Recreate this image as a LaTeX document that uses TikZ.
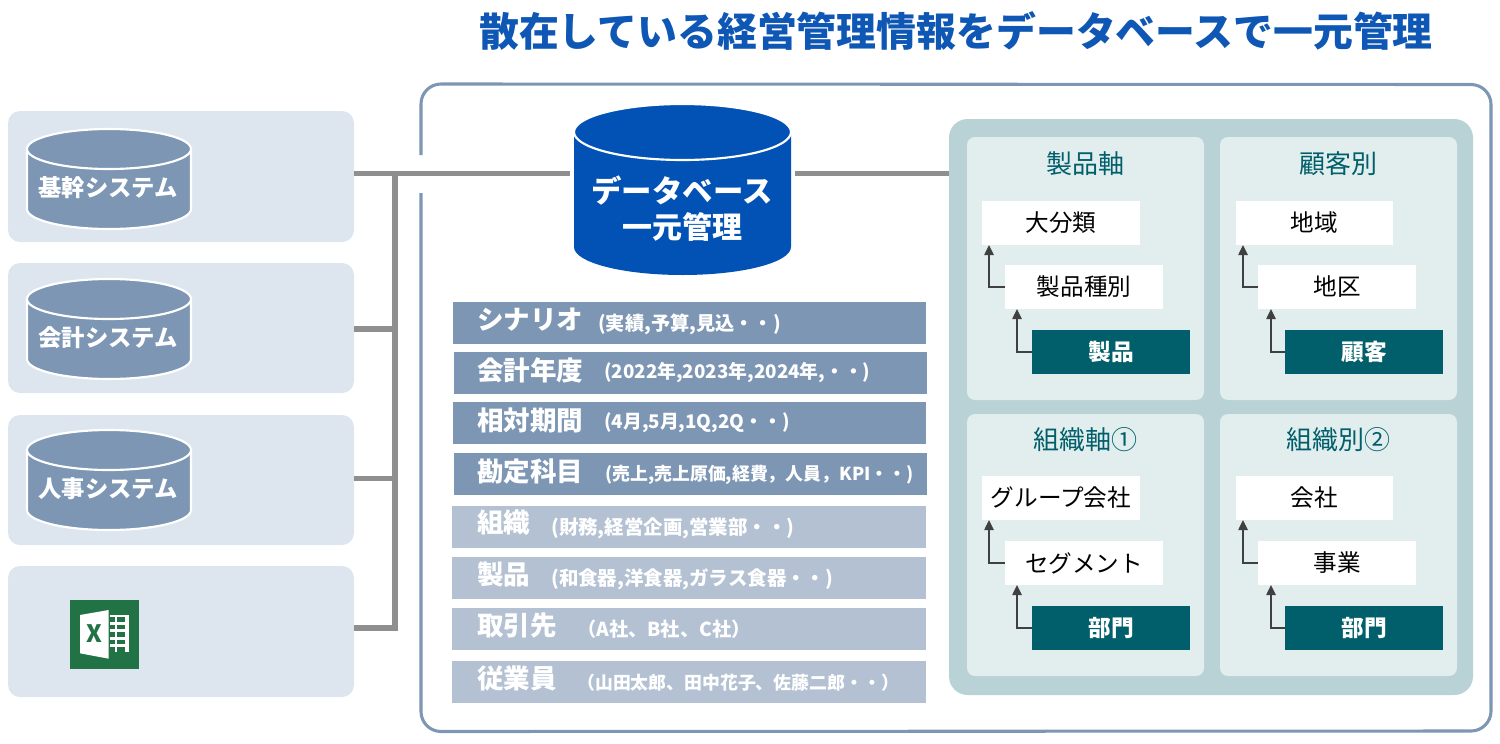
\documentclass[tikz,border=0pt]{standalone}
\usepackage{fontspec}
\setmainfont{Noto Sans CJK JP}
\usetikzlibrary{arrows.meta,calc}
\definecolor{blueT}{HTML}{0F57B5}
\definecolor{dbblue}{HTML}{0252B5}
\definecolor{steel}{HTML}{7C96B4}
\definecolor{steelL}{HTML}{B3C1D3}
\definecolor{sysbg}{HTML}{DDE5EF}
\definecolor{wire}{HTML}{8F8F8F}
\definecolor{panelbg}{HTML}{B8D2D5}
\definecolor{panelin}{HTML}{E2EEEE}
\definecolor{tealD}{HTML}{005F6B}
\definecolor{xlgreen}{HTML}{217346}
\definecolor{arrowc}{HTML}{404040}
\tikzset{
 x=0.75pt,y=-0.75pt,
 pxb/.style={rectangle,inner sep=0pt,outer sep=0pt},
 sysbox/.style={pxb,fill=sysbg,rounded corners=9pt},
 panelbox/.style={pxb,fill=panelin,rounded corners=6pt},
 tealpanel/.style={pxb,fill=panelbg,rounded corners=14pt},
 barD/.style={pxb,fill=steel},
 barL/.style={pxb,fill=steelL},
 itemw/.style={pxb,fill=white,font=\fontsize{17.7}{20}\selectfont},
 itemd/.style={pxb,fill=tealD,text=white,font=\bfseries\fontsize{17}{20}\selectfont},
 ptitle/.style={inner sep=0pt,text=tealD,font=\fontsize{19.5}{22}\selectfont},
 barlab/.style={inner sep=0pt,anchor=west,text=white,font=\bfseries\fontsize{19.9}{22}\selectfont},
 barsub/.style={inner sep=0pt,anchor=west,text=white,font=\bfseries\fontsize{14.4}{16}\selectfont},
 barsubn/.style={barsub,font=\bfseries\fontsize{13.4}{16}\selectfont},
 barsubw/.style={barsub,font=\bfseries\fontsize{14.1}{16}\selectfont},
 barsubx/.style={barsub,font=\bfseries\fontsize{14.6}{16}\selectfont},
 wireln/.style={draw=wire,line width=3.9pt,line join=miter},
 uparrow/.style={draw=arrowc,line width=1.1pt,-{Triangle[length=7.5pt,width=7pt]}},
 cyltext/.style={inner sep=0pt,text=white,font=\bfseries\fontsize{17.5}{20}\selectfont},
}
\newcommand{\PB}[7]{%
 \pgfmathsetmacro\pbw{(#5-#3)*0.75}\pgfmathsetmacro\pbh{(#6-#4)*0.75}%
 \node[#1,minimum width=\pbw pt,minimum height=\pbh pt] (#2) at ({(#3+#5)/2},{(#4+#6)/2}) {#7};}
% small cylinder: top y
\newcommand{\SC}[3]{%
 \path[fill=steel,draw=white,line width=1.6pt] (27,#2+20) -- (27,#2+80) arc[start angle=180,end angle=0,x radius=82,y radius=20] -- (191,#2+20) -- cycle;
 \path[fill=steel,draw=white,line width=1.6pt] (109,#2+20) ellipse[x radius=82,y radius=20];
 \node[cyltext] (#1) at (108,#2+58.5) {#3};}
\begin{document}
\begin{tikzpicture}
\useasboundingbox (0,0) rectangle (1500,743);
\node[inner sep=0pt,text=blueT,font=\bfseries\fontsize{29.9}{32}\selectfont] (title) at (956,31) {散在している経営管理情報をデータベースで一元管理};
% outer frame with a gap
\draw[steel,line width=2.3pt] (421,155) -- (421,104) arc[start angle=180,end angle=270,radius=20] -- (1471,84.5) arc[start angle=270,end angle=360,radius=20] -- (1491,711) arc[start angle=0,end angle=90,radius=20] -- (441,731.5) arc[start angle=90,end angle=180,radius=20] -- (421,193);
% left systems
\PB{sysbox}{sys1}{8}{111}{354}{242}{}
\PB{sysbox}{sys2}{8}{263}{354}{393}{}
\PB{sysbox}{sys3}{8}{415}{354}{545}{}
\PB{sysbox}{sys4}{8}{566}{354}{697}{}
\SC{cyl1}{129}{基幹システム}
\SC{cyl2}{279}{会計システム}
\SC{cyl3}{430}{人事システム}
% excel icon
\fill[xlgreen] (70,599.5) rectangle (139,669);
\fill[white] (80,615) -- (108.7,610) -- (108.7,658.7) -- (80,653.3) -- cycle;
\fill[white] (110,615) rectangle (129,652);
\foreach \yy in {617,624.5,632,639.5,647}{\fill[xlgreen] (116.5,\yy) rectangle (124.5,\yy+4.5);\fill[xlgreen] (110.3,\yy) rectangle (114.5,\yy+4.5);}
\node[inner sep=0pt,text=xlgreen,font=\bfseries\fontsize{18}{20}\selectfont] (xl) at (94.3,634) {X};
% database
\fill[dbblue] (574,132) -- (574,247) arc[start angle=180,end angle=0,x radius=108.5,y radius=28] -- (791,132) -- cycle;
\path[fill=dbblue,draw=white,line width=1.6pt] (682.5,132) ellipse[x radius=108.5,y radius=28];
\node[pxb,minimum width=162.75pt,minimum height=129pt] (db) at (682.5,190) {};
\node[inner sep=0pt,text=white,font=\bfseries\fontsize{22.8}{24}\selectfont] (dbt1) at (682,191) {データベース};
\node[inner sep=0pt,text=white,font=\bfseries\fontsize{22.5}{24}\selectfont] (dbt2) at (682,227) {一元管理};
% bars
\PB{barD}{b1}{453}{302}{926}{344}{}
\PB{barD}{b2}{454}{352}{927}{394}{}
\PB{barD}{b3}{453}{402}{926}{444}{}
\PB{barD}{b4}{454}{453}{927}{495}{}
\PB{barL}{b5}{452}{506}{926}{548}{}
\PB{barL}{b6}{452}{557}{926}{599}{}
\PB{barL}{b7}{452}{608}{926}{650}{}
\PB{barL}{b8}{452}{661}{926}{703}{}
\node[barlab] (l1) at (477,320) {シナリオ};
\node[barlab] (l2) at (477,370) {会計年度};
\node[barlab] (l3) at (477,420) {相対期間};
\node[barlab] (l4) at (477,471) {勘定科目};
\node[barlab] (l5) at (477,523) {組織};
\node[barlab] (l6) at (477,574) {製品};
\node[barlab] (l7) at (477,625) {取引先};
\node[barlab] (l8) at (477,678) {従業員};
\node[barsub] (s1) at (598,324) {(実績,予算,見込・・)};
\node[barsubw] (s2) at (604,373) {(2022年,2023年,2024年,・・)};
\node[barsubw] (s3) at (604,423) {(4月,5月,1Q,2Q・・)};
\node[barsubn] (s4) at (605,475) {(売上,売上原価,経費，人員，KPI・・)};
\node[barsubx] (s5) at (551,528) {(財務,経営企画,営業部・・)};
\node[barsubx] (s6) at (551,579) {(和食器,洋食器,ガラス食器・・)};
\node[barsub] (s7) at (577,629) {（A社、B社、C社）};
\node[barsubn] (s8) at (577,683) {（山田太郎、田中花子、佐藤二郎・・）};
% right panels
\PB{tealpanel}{main}{949}{119}{1473}{695}{}
\PB{panelbox}{p1}{967}{137}{1204}{400}{}
\PB{panelbox}{p2}{1220}{137}{1457}{400}{}
\PB{panelbox}{p3}{967}{414}{1204}{676}{}
\PB{panelbox}{p4}{1220}{414}{1457}{676}{}
\node[ptitle] (t1) at (1085.5,164) {製品軸};
\node[ptitle] (t2) at (1338.5,164) {顧客別};
\node[ptitle] (t3) at (1085.5,440) {組織軸①};
\node[ptitle] (t4) at (1338.5,440) {組織別②};
\PB{itemw}{a1}{982}{201}{1140}{245}{大分類}
\PB{itemw}{a2}{1005}{265}{1163}{309}{製品種別}
\PB{itemd}{a3}{1032}{330}{1190}{374}{製品}
\PB{itemw}{b1x}{1236}{201}{1393}{245}{地域}
\PB{itemw}{b2x}{1258}{265}{1416}{309}{地区}
\PB{itemd}{b3x}{1285}{330}{1443}{374}{顧客}
\PB{itemw}{c1}{982}{476}{1140}{520}{グループ会社}
\PB{itemw}{c2}{1005}{541}{1163}{585}{セグメント}
\PB{itemd}{c3}{1032}{606}{1190}{650}{部門}
\PB{itemw}{d1}{1236}{476}{1393}{520}{会社}
\PB{itemw}{d2}{1258}{541}{1416}{585}{事業}
\PB{itemd}{d3}{1285}{606}{1443}{650}{部門}
% arrows
\foreach \lo/\hi/\dx in {a2/a1/7,a3/a2/12,b2x/b1x/7,b3x/b2x/13,c2/c1/7,c3/c2/12,d2/d1/7,d3/d2/13}{
 \draw[uparrow] (\lo.west) -| ([xshift=\dx*0.75pt]\hi.south west);
}
% connectors
\coordinate (j1) at (395,173.5);
\coordinate (j2) at (395,329);
\coordinate (j3) at (395,478.5);
\coordinate (j4) at (395,628);
\draw[wireln] (j1 -| sys1.east) -- ($(j1 -| db.west)+(-3pt,0)$);
\draw[wireln] (j1 -| main.west) -- ($(j1 -| db.east)+(3pt,0)$);
\draw[wireln] (j1) -- (j4) -- (j4 -| sys4.east);
\draw[wireln] (j2 -| sys2.east) -- (j2);
\draw[wireln] (j3 -| sys3.east) -- (j3);
\end{tikzpicture}
\end{document}
